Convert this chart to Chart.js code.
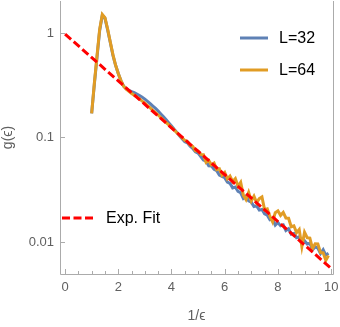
<!DOCTYPE html>
<html>
<head>
<meta charset="utf-8">
<script src="https://cdn.jsdelivr.net/npm/chart.js@4/dist/chart.umd.min.js"></script>
<style>
  html, body { margin: 0; padding: 0; background: #fff; }
  #wrap { width: 340px; height: 327px; }
</style>
</head>
<body>
<div id="wrap"><canvas id="chart"></canvas></div>
<script>
'use strict';

// 1/eps grid, shared by both series
const xs = [1.0, 1.1, 1.2, 1.3, 1.4, 1.5, 1.6, 1.7, 1.8, 1.9,
  2.0, 2.1, 2.2, 2.3, 2.4, 2.5, 2.6, 2.7, 2.8, 2.9,
  3.0, 3.1, 3.2, 3.3, 3.4, 3.5, 3.6, 3.7, 3.8, 3.9,
  4.0, 4.1, 4.2, 4.3, 4.4, 4.5, 4.6, 4.7, 4.8, 4.9,
  5.0, 5.1, 5.2, 5.3, 5.4, 5.5, 5.6, 5.7, 5.8, 5.9,
  6.0, 6.1, 6.2, 6.3, 6.4, 6.5, 6.6, 6.7, 6.8, 6.9,
  7.0, 7.1, 7.2, 7.3, 7.4, 7.5, 7.6, 7.7, 7.8, 7.9,
  8.0, 8.1, 8.2, 8.3, 8.4, 8.5, 8.6, 8.7, 8.8, 8.9,
  9.0, 9.1, 9.2, 9.3, 9.4, 9.5, 9.6, 9.7, 9.8, 9.9];

const gL32 = [0.17, 0.32, 0.58, 1.05, 1.48, 1.38, 1.07, 0.81, 0.61, 0.49,
  0.41, 0.35, 0.31, 0.292, 0.282, 0.275, 0.268, 0.26, 0.252, 0.243,
  0.233, 0.222, 0.211, 0.2, 0.19, 0.179, 0.168, 0.158, 0.148, 0.138,
  0.129, 0.12, 0.112, 0.104, 0.097, 0.091, 0.0891, 0.0826, 0.0785, 0.0728,
  0.0708, 0.0658, 0.061, 0.0593, 0.0537, 0.0535, 0.0497, 0.0482, 0.0438, 0.0425,
  0.0413, 0.0375, 0.0364, 0.033, 0.0336, 0.0305, 0.0296, 0.0262, 0.0274, 0.0248,
  0.0241, 0.0219, 0.0222, 0.0202, 0.0205, 0.0186, 0.0181, 0.0164, 0.0167, 0.0145,
  0.0154, 0.0143, 0.0146, 0.0129, 0.0134, 0.0119, 0.0121, 0.011, 0.0112, 0.00968,
  0.0103, 0.00959, 0.00975, 0.00845, 0.00899, 0.00875, 0.00776, 0.00845, 0.0075, 0.0078];

const gL64 = [0.17, 0.33, 0.6, 1.08, 1.5, 1.4, 1.09, 0.82, 0.62, 0.49,
  0.41, 0.35, 0.31, 0.29, 0.276, 0.264, 0.254, 0.244, 0.234, 0.223,
  0.213, 0.202, 0.192, 0.182, 0.173, 0.164, 0.155, 0.147, 0.139, 0.132,
  0.125, 0.118, 0.111, 0.105, 0.099, 0.094, 0.0912, 0.0845, 0.0822, 0.0745,
  0.0741, 0.0689, 0.0684, 0.0579, 0.0603, 0.0547, 0.057, 0.0493, 0.0502, 0.0435,
  0.0463, 0.0402, 0.0428, 0.0379, 0.0404, 0.0342, 0.0373, 0.0281, 0.0255, 0.0298,
  0.0247, 0.0275, 0.0238, 0.026, 0.027, 0.0204, 0.0208, 0.0176, 0.0156, 0.0191,
  0.0199, 0.018, 0.0192, 0.017, 0.0169, 0.014, 0.0143, 0.0123, 0.0132, 0.00904,
  0.0124, 0.011, 0.0109, 0.00865, 0.00964, 0.00959, 0.00794, 0.00789, 0.00668, 0.00745];

// exponential fit, straight on the log axis
const fitX = [0, 10];
const fitY = [0.975, 0.0056];

const xTicks = [0, 2, 4, 6, 8, 10];
const yTicks = [0.01, 0.1, 1];

const blue = '#5E81B5';
const orange = '#E19C24';
const red = '#FF0000';
const axisGray = '#ababab';
const fontFam = '"Liberation Sans", Arial, sans-serif';

function pts(x, y) {
    return x.map((v, i) => ({ x: v, y: y[i] }));
}

// frame, inward tick marks and the in-plot legends
const decor = {
    id: 'decor',
    afterDraw(chart) {
        const { ctx, chartArea: a, scales } = chart;
        const sx = scales.x, sy = scales.y;
        ctx.save();
        ctx.strokeStyle = axisGray;
        ctx.lineWidth = 1;
        ctx.beginPath();
        ctx.moveTo(a.left + 0.5, a.top);
        ctx.lineTo(a.left + 0.5, a.bottom + 0.5);
        ctx.lineTo(a.right + 0.5, a.bottom + 0.5);
        ctx.lineTo(a.right + 0.5, a.top);
        ctx.stroke();

        ctx.beginPath();
        for (let v = 0; v <= 10; v += 0.5) {
            const px = Math.round(sx.getPixelForValue(v)) + 0.5;
            const len = (v % 2 === 0) ? 5 : 3;
            ctx.moveTo(px, a.bottom);
            ctx.lineTo(px, a.bottom - len);
        }
        yTicks.forEach(v => {
            const py = Math.round(sy.getPixelForValue(v)) + 0.5;
            ctx.moveTo(a.left, py);
            ctx.lineTo(a.left + 5, py);
        });
        ctx.stroke();

        ctx.font = '16px ' + fontFam;
        ctx.fillStyle = '#000';
        ctx.textBaseline = 'middle';
        const items = [
            { c: blue, t: 'L=32', x0: 240, x1: 268, y: 38, tx: 279, dash: [] },
            { c: orange, t: 'L=64', x0: 240, x1: 268, y: 70, tx: 279, dash: [] },
            { c: red, t: 'Exp. Fit', x0: 62, x1: 95, y: 218, tx: 106, dash: [8, 3.5] }
        ];
        items.forEach(it => {
            ctx.strokeStyle = it.c;
            ctx.lineWidth = 3;
            ctx.setLineDash(it.dash);
            ctx.beginPath();
            ctx.moveTo(it.x0, it.y);
            ctx.lineTo(it.x1, it.y);
            ctx.stroke();
            ctx.setLineDash([]);
            ctx.fillText(it.t, it.tx, it.y + 1);
        });
        ctx.restore();
    }
};

new Chart(document.getElementById('chart'), {
    type: 'line',
    data: {
        datasets: [
            { label: 'Exp. Fit', data: pts(fitX, fitY), borderColor: red, borderWidth: 3,
              borderDash: [8, 3.5], order: 1 },
            { label: 'L=64', data: pts(xs, gL64), borderColor: orange, borderWidth: 3, order: 2 },
            { label: 'L=32', data: pts(xs, gL32), borderColor: blue, borderWidth: 3, order: 3 }
        ]
    },
    options: {
        responsive: true,
        maintainAspectRatio: false,
        animation: false,
        elements: { point: { radius: 0 }, line: { tension: 0, borderCapStyle: 'butt' } },
        layout: { padding: { top: 1, right: 7, left: 0, bottom: 0 } },
        plugins: { legend: { display: false }, tooltip: { enabled: false } },
        scales: {
            x: {
                type: 'linear',
                min: -0.19,
                max: 10.07,
                afterFit: s => { s.height = 53; s.paddingLeft = 0; s.paddingRight = 0; },
                afterBuildTicks: s => { s.ticks = xTicks.map(v => ({ value: v })); },
                grid: { display: false, drawTicks: false },
                border: { display: false },
                ticks: { color: '#606060', padding: 6, font: { size: 13, family: fontFam } },
                title: { display: true, text: '1/ϵ', color: '#606060', padding: { top: 0, bottom: 2 },
                         font: { size: 14, family: fontFam } }
            },
            y: {
                type: 'logarithmic',
                min: 0.00495,
                max: 2.02,
                afterFit: s => { s.width = 60; s.paddingTop = 0; s.paddingBottom = 0; },
                afterBuildTicks: s => { s.ticks = yTicks.map(v => ({ value: v })); },
                grid: { display: false, drawTicks: false },
                border: { display: false },
                ticks: { color: '#606060', padding: 6, autoSkip: false,
                         callback: v => String(v),
                         font: { size: 13, family: fontFam } },
                title: { display: true, text: 'g(ϵ)', color: '#606060', padding: 0,
                         font: { size: 14, family: fontFam } }
            }
        }
    },
    plugins: [decor]
});
</script>
</body>
</html>
